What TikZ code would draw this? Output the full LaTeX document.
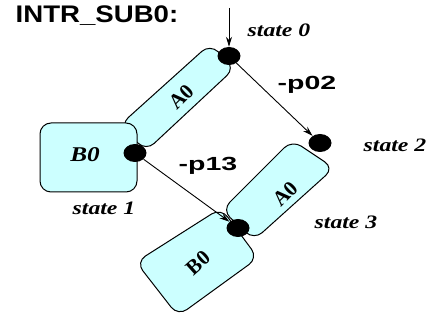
\documentclass[tikz,border=0pt]{standalone}
\usepackage{fontspec}
\setmainfont{Liberation Serif}
\setsansfont{Liberation Sans}
\usetikzlibrary{arrows.meta,shapes.geometric}
\definecolor{boxcyan}{RGB}{204,255,255}

\begin{document}
\begin{tikzpicture}[x=1pt,y=-1pt,
    state/.style={ellipse,fill=black,minimum width=23pt,minimum height=18pt,inner sep=0pt},
    seg/.style={draw,fill=boxcyan,line width=1pt,rounded corners=11pt},
    tag/.style={font=\fontsize{19}{19}\selectfont\bfseries\itshape,xscale=1.25},
    cond/.style={font=\fontsize{19}{19}\selectfont\sffamily\bfseries,xscale=1.5},
    seglbl/.style={font=\fontsize{21}{21}\selectfont\bfseries,inner sep=0pt},
    trans/.style={-{Stealth[length=10pt,width=6pt]},line width=0.9pt}]
  \useasboundingbox (0,0) rectangle (432,320);
  % segments
  \path[seg] (210,44)--(235,68)--(146,151)--(120,125)--cycle;      % A0, state 1 to state 0
  \path[seg] (40,123) rectangle (137,192);                         % B0 at state 1
  \path[seg] (292,140)--(334,168)--(254,240)--(222,210)--cycle;    % A0, state 3 to state 2
  \path[seg] (221,208)--(258,258)--(178,316)--(136,262)--cycle;    % B0 below state 3
  \node[seglbl,rotate=45] (a0up) at (181,97) {A0};
  \node[seglbl,font=\fontsize{21}{21}\selectfont\bfseries\itshape,xscale=1.2] (b0up) at (85,155) {B0};
  \node[seglbl,rotate=45] (a0lo) at (285,194) {A0};
  \node[seglbl,rotate=42] (b0lo) at (198,263) {B0};
  % states
  \node[state] (s0) at (229,56) {};
  \node[state] (s1) at (135,153) {};
  \node[state] (s2) at (320,143) {};
  \node[state] (s3) at (238,228) {};
  \coordinate (entry) at (229,8);
  \draw[trans] (entry) -- (s0);
  \draw[trans] (s0) -- (s2);
  \draw[trans] (s1) -- (s3);
  % texts
  \node[font=\fontsize{24}{24}\selectfont\sffamily\bfseries,xscale=1.15] (title) at (97,16) {INTR\_SUB0:};
  \node[tag] (t0) at (279,30) {state 0};
  \node[tag] (t1) at (104,208) {state 1};
  \node[tag] (t2) at (395,145) {state 2};
  \node[tag] (t3) at (346,222) {state 3};
  \node[cond] (p02) at (307,85) {-p02};
  \node[cond] (p13) at (208,166) {-p13};
\end{tikzpicture}
\end{document}
